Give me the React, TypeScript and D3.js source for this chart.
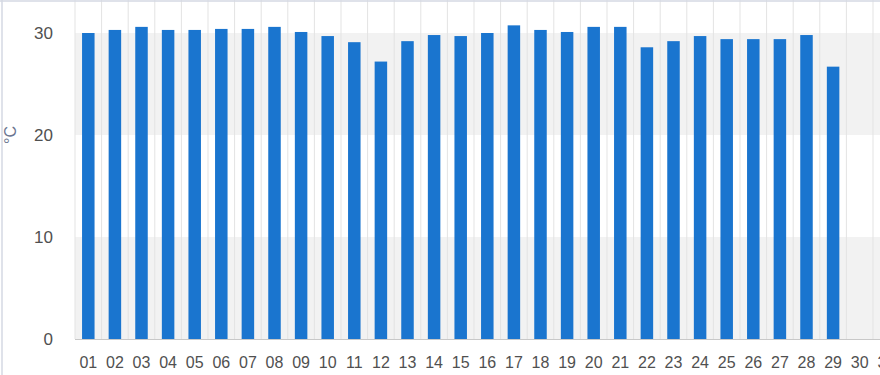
import React from "react";
import * as d3 from "d3";

const categories = ["01","02","03","04","05","06","07","08","09","10","11","12","13","14","15","16","17","18","19","20","21","22","23","24","25","26","27","28","29","30","31"];
const values: (number | null)[] = [30.0,30.3,30.6,30.3,30.3,30.4,30.4,30.6,30.1,29.7,29.1,27.2,29.2,29.8,29.7,30.0,30.75,30.3,30.1,30.6,30.6,28.6,29.2,29.7,29.4,29.4,29.4,29.8,26.7,null,null];
const yTicks = [0, 10, 20, 30];
const bandRanges: [number, number][] = [[0, 10], [20, 30]];
const yLabel = "°C";

export default function App() {
  const W = 880, H = 375;
  const left = 75, baseY = 339, unit = 10.2, step = 26.6;
  const y = d3.scaleLinear().domain([0, 40]).range([baseY, baseY - 40 * unit]);
  const x = d3.scaleBand<string>().domain(categories).range([left, left + step * categories.length]).paddingInner(0.53).paddingOuter(0.265);
  const st = x.step();
  const bw = x.bandwidth();
  return (
    <svg width={W} height={H} style={{ position: "absolute", left: 0, top: 0, background: "#fff" }} fontFamily="'Liberation Sans', Arial, sans-serif">
      {bandRanges.map(([a, b], i) => (
        <rect key={"b" + i} x={left} y={y(b)} width={W - left} height={y(a) - y(b)} fill="#f2f2f2" />
      ))}
      {d3.range(categories.length + 1).map(k => (
        <line key={"g" + k} x1={x.range()[0] + k * st} x2={x.range()[0] + k * st} y1={0} y2={baseY} stroke="#e3e3e3" strokeWidth={1} />
      ))}
      {categories.map((c, i) => values[i] == null ? null : (
        <rect key={"r" + c} x={x(c)!} y={y(values[i] as number)} width={bw} height={baseY - y(values[i] as number)} fill="#1a75cf" />
      ))}
      <line x1={left} x2={W} y1={baseY + 0.5} y2={baseY + 0.5} stroke="#c8c8c8" strokeWidth={1} />
      {yTicks.map(t => (
        <text key={"t" + t} x={53} y={y(t)} dy="0.35em" textAnchor="end" fontSize={17} fill="#505050">{t}</text>
      ))}
      {categories.map(c => (
        <text key={"x" + c} x={x(c)! + bw / 2} y={368} textAnchor="middle" fontSize={16} fill="#505050">{c}</text>
      ))}
      <text transform={`translate(10,${y(20)}) rotate(-90)`} textAnchor="middle" dy="0.35em" fontSize={16} fill="#6a7590">{yLabel}</text>
      <line x1={0} x2={W} y1={1} y2={1} stroke="#d5d9e3" strokeWidth={1.5} />
      <line x1={2} x2={2} y1={0} y2={H} stroke="#d5d9e3" strokeWidth={1.5} />
    </svg>
  );
}
